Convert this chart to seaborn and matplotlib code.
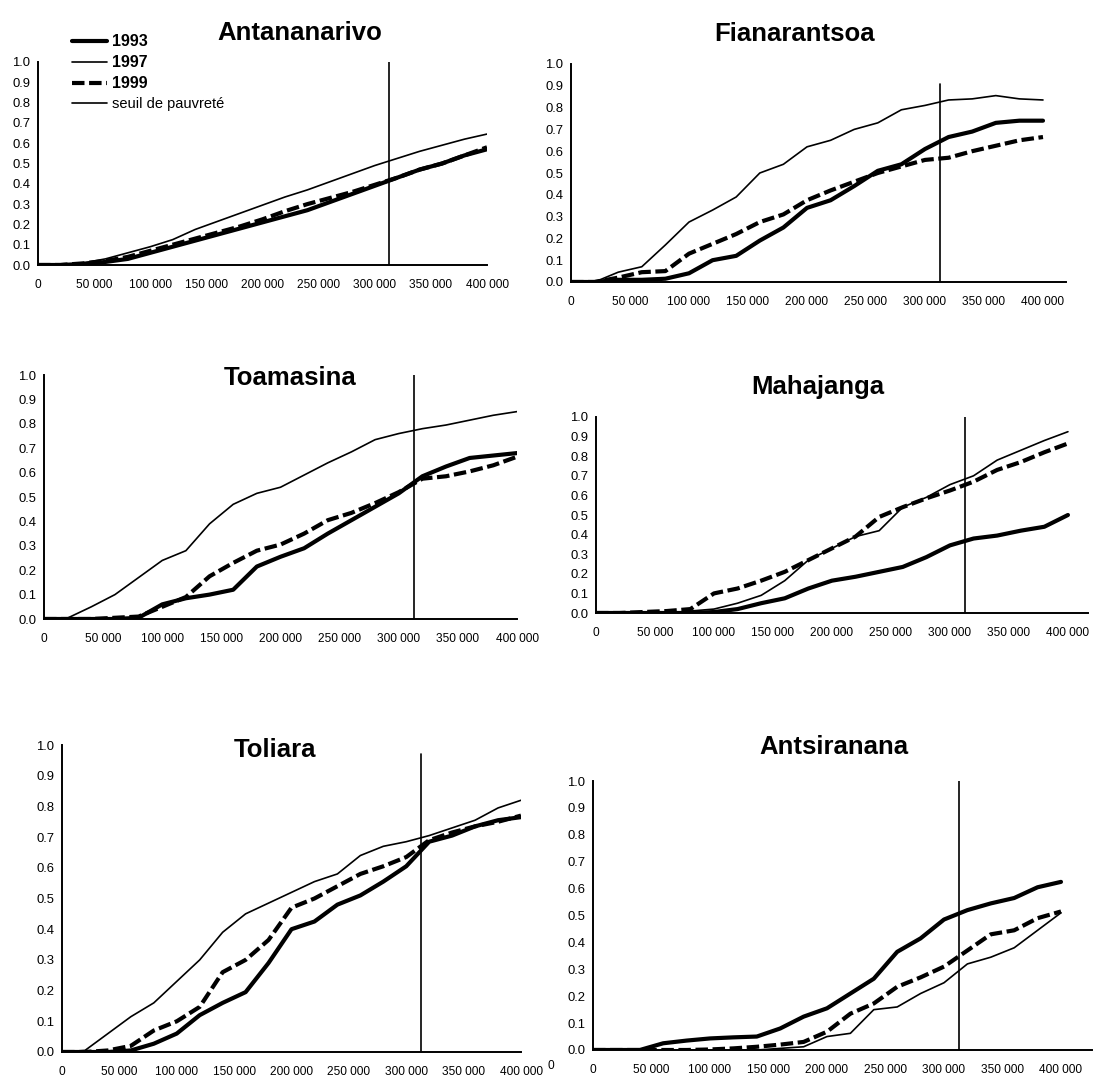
import matplotlib
matplotlib.use("Agg")
import matplotlib.pyplot as plt
import seaborn as sns
import numpy as np
import pandas as pd
from matplotlib import font_manager as fm
from matplotlib.lines import Line2D
from matplotlib.ticker import FuncFormatter, MultipleLocator

# ---------------- data ----------------
income = [0, 20000, 40000, 60000, 80000, 100000, 120000, 140000, 160000, 180000,
          200000, 220000, 240000, 260000, 280000, 300000, 320000, 340000, 360000,
          380000, 400000]
poverty_line = 313000
years = ["1993", "1997", "1999"]
x_ticks = [0, 50000, 100000, 150000, 200000, 250000, 300000, 350000, 400000]
y_ticks = [0.0, 0.1, 0.2, 0.3, 0.4, 0.5, 0.6, 0.7, 0.8, 0.9, 1.0]
titles = ["Antananarivo", "Fianarantsoa", "Toamasina", "Mahajanga", "Toliara", "Antsiranana"]
legend_labels = ["1993", "1997", "1999", "seuil de pauvreté"]

antananarivo_1993 = [0, 0, 0.005, 0.015, 0.03, 0.06, 0.09, 0.12, 0.15, 0.18, 0.21, 0.24, 0.27, 0.31, 0.35, 0.39, 0.43, 0.47, 0.50, 0.54, 0.57]
antananarivo_1997 = [0, 0, 0.01, 0.03, 0.06, 0.09, 0.125, 0.175, 0.215, 0.255, 0.295, 0.335, 0.37, 0.41, 0.45, 0.49, 0.525, 0.56, 0.59, 0.62, 0.645]
antananarivo_1999 = [0, 0, 0.008, 0.02, 0.04, 0.07, 0.10, 0.13, 0.16, 0.19, 0.225, 0.265, 0.30, 0.33, 0.36, 0.395, 0.43, 0.47, 0.50, 0.54, 0.58]

fianarantsoa_1993 = [0, 0, 0.01, 0.01, 0.015, 0.04, 0.10, 0.12, 0.19, 0.25, 0.34, 0.375, 0.44, 0.51, 0.54, 0.61, 0.665, 0.69, 0.73, 0.74, 0.74]
fianarantsoa_1997 = [0, 0, 0.045, 0.07, 0.17, 0.275, 0.33, 0.39, 0.50, 0.54, 0.62, 0.65, 0.70, 0.73, 0.79, 0.81, 0.835, 0.84, 0.855, 0.84, 0.835]
fianarantsoa_1999 = [0, 0, 0.02, 0.045, 0.05, 0.13, 0.175, 0.22, 0.275, 0.31, 0.375, 0.42, 0.46, 0.50, 0.53, 0.56, 0.57, 0.60, 0.625, 0.65, 0.665]

toamasina_1993 = [0, 0, 0, 0, 0.005, 0.06, 0.085, 0.10, 0.12, 0.215, 0.255, 0.29, 0.35, 0.405, 0.46, 0.515, 0.585, 0.625, 0.66, 0.67, 0.68]
toamasina_1997 = [0, 0.004, 0.05, 0.10, 0.17, 0.24, 0.28, 0.39, 0.47, 0.515, 0.54, 0.59, 0.64, 0.685, 0.735, 0.76, 0.78, 0.795, 0.815, 0.835, 0.85]
toamasina_1999 = [0, 0, 0, 0.005, 0.01, 0.05, 0.09, 0.175, 0.23, 0.28, 0.305, 0.35, 0.405, 0.435, 0.475, 0.52, 0.575, 0.585, 0.605, 0.63, 0.665]

mahajanga_1993 = [0, 0, 0, 0, 0, 0.005, 0.02, 0.05, 0.075, 0.125, 0.165, 0.185, 0.21, 0.235, 0.285, 0.345, 0.38, 0.395, 0.42, 0.44, 0.50]
mahajanga_1997 = [0, 0, 0, 0, 0.01, 0.02, 0.05, 0.09, 0.165, 0.27, 0.33, 0.39, 0.42, 0.54, 0.59, 0.655, 0.70, 0.78, 0.83, 0.88, 0.925]
mahajanga_1999 = [0, 0, 0.005, 0.01, 0.02, 0.10, 0.125, 0.165, 0.21, 0.27, 0.33, 0.39, 0.49, 0.54, 0.585, 0.625, 0.67, 0.73, 0.77, 0.82, 0.865]

toliara_1993 = [0, 0, 0, 0.005, 0.027, 0.06, 0.12, 0.16, 0.195, 0.29, 0.40, 0.425, 0.48, 0.51, 0.555, 0.605, 0.685, 0.705, 0.735, 0.755, 0.765]
toliara_1997 = [0, 0.005, 0.06, 0.115, 0.16, 0.23, 0.30, 0.39, 0.45, 0.485, 0.52, 0.555, 0.58, 0.64, 0.67, 0.685, 0.705, 0.73, 0.755, 0.795, 0.82]
toliara_1999 = [0, 0, 0.005, 0.02, 0.07, 0.10, 0.147, 0.26, 0.30, 0.365, 0.47, 0.50, 0.54, 0.58, 0.605, 0.635, 0.69, 0.715, 0.735, 0.75, 0.77]

antsiranana_1993 = [0, 0, 0, 0.025, 0.035, 0.043, 0.047, 0.05, 0.08, 0.124, 0.155, 0.21, 0.265, 0.365, 0.415, 0.485, 0.52, 0.545, 0.565, 0.605, 0.625]
antsiranana_1997 = [0, 0, 0, 0, 0, 0, 0, 0, 0.006, 0.012, 0.05, 0.062, 0.15, 0.16, 0.21, 0.25, 0.32, 0.345, 0.38, 0.445, 0.51]
antsiranana_1999 = [0, 0, 0, 0, 0, 0.002, 0.006, 0.012, 0.02, 0.03, 0.068, 0.135, 0.173, 0.235, 0.27, 0.31, 0.37, 0.43, 0.445, 0.49, 0.515]

series = [
    (antananarivo_1993, antananarivo_1997, antananarivo_1999),
    (fianarantsoa_1993, fianarantsoa_1997, fianarantsoa_1999),
    (toamasina_1993, toamasina_1997, toamasina_1999),
    (mahajanga_1993, mahajanga_1997, mahajanga_1999),
    (toliara_1993, toliara_1997, toliara_1999),
    (antsiranana_1993, antsiranana_1997, antsiranana_1999),
]

# ---------------- style ----------------
sns.set_theme(style="white")
names = {f.name for f in fm.fontManager.ttflist}
regular = "Liberation Sans" if "Liberation Sans" in names else "DejaVu Sans"
narrow = "Liberation Sans Narrow" if "Liberation Sans Narrow" in names else regular
plt.rcParams["font.family"] = [regular, "DejaVu Sans"]
plt.rcParams["text.color"] = "black"

W, H = 1095, 1078
fig = plt.figure(figsize=(W / 100, H / 100), dpi=100)
fig.patch.set_facecolor("white")

# pixel layout: left, right, top, bottom, x max, title centre, poverty line top
layout = [
    (38, 487, 62, 265, 400000, (300, 33), 1.0),
    (571, 1066, 64, 282, 419500, (795, 34), 0.91),
    (44, 517, 375, 619, 400000, (290, 378), 1.0),
    (596, 1088, 417, 613, 417000, (818, 387), 1.0),
    (62, 521, 745, 1052, 400000, (275, 750), 0.97),
    (593, 1092, 781, 1050, 426500, (834, 747), 1.0),
]

line_styles = {
    "1993": dict(linewidth=3.0, linestyle="-"),
    "1997": dict(linewidth=1.2, linestyle="-"),
    "1999": dict(linewidth=3.0, linestyle=(0, (3, 1.1))),
}

fmt = FuncFormatter(lambda v, p: f"{int(round(v)):,}".replace(",", " "))

for (l, r, t, b, xmax, (tx, ty), ltop), title, vals in zip(layout, titles, series):
    ax = fig.add_axes([l / W, 1 - b / H, (r - l) / W, (b - t) / H])
    df = pd.DataFrame({"income": income * 3,
                       "share": list(vals[0]) + list(vals[1]) + list(vals[2]),
                       "year": [y for y in years for _ in income]})
    for yr in years:
        sub = df[df["year"] == yr]
        sns.lineplot(data=sub, x="income", y="share", ax=ax, color="black",
                     legend=False, **line_styles[yr])
    ax.axvline(poverty_line, ymin=0, ymax=ltop, color="black", linewidth=1.2)
    ax.set_xlim(0, xmax)
    ax.set_ylim(0, 1.0)
    ax.set_xticks(x_ticks)
    ax.set_yticks(y_ticks)
    ax.xaxis.set_major_formatter(fmt)
    ax.yaxis.set_major_formatter(FuncFormatter(lambda v, p: f"{v:.1f}"))
    ax.set_xlabel("")
    ax.set_ylabel("")
    for s in ["top", "right"]:
        ax.spines[s].set_visible(False)
    for s in ["left", "bottom"]:
        ax.spines[s].set_color("black")
        ax.spines[s].set_linewidth(1.4)
    ax.tick_params(axis="x", direction="out", length=3, width=1, color="black",
                   pad=7, labelsize=8.6, labelcolor="black")
    ax.tick_params(axis="y", direction="out", length=3, width=1, color="black",
                   pad=2.5, labelsize=9.4, labelcolor="black")
    ax.set_facecolor("white")
    ax.patch.set_alpha(0)
    fig.text(tx / W, 1 - ty / H, title, ha="center", va="center",
             fontsize=21 if narrow != regular else 18.5, fontweight="bold",
             family=[narrow, "DejaVu Sans"], color="black")

# legend (upper left of first panel)
handles = [Line2D([0], [0], color="black", **line_styles["1993"]),
           Line2D([0], [0], color="black", **line_styles["1997"]),
           Line2D([0], [0], color="black", **line_styles["1999"]),
           Line2D([0], [0], color="black", linewidth=1.2)]
leg = fig.legend(handles, legend_labels, loc="upper left",
                 bbox_to_anchor=(72 / W, 1 - 34 / H), frameon=False,
                 borderpad=0, borderaxespad=0, handlelength=2.4,
                 handletextpad=0.35, labelspacing=0.42, fontsize=10.5)
for i, txt in enumerate(leg.get_texts()):
    if i < 3:
        txt.set_fontweight("bold")
        txt.set_family([narrow, "DejaVu Sans"])
        txt.set_fontsize(11.5)

# stray tick label seen at the bottom of the scan
fig.text(551 / W, 1 - 1066 / H, "0", ha="center", va="center", fontsize=8.6)

fig.savefig("out.png", dpi=100, facecolor="white")
